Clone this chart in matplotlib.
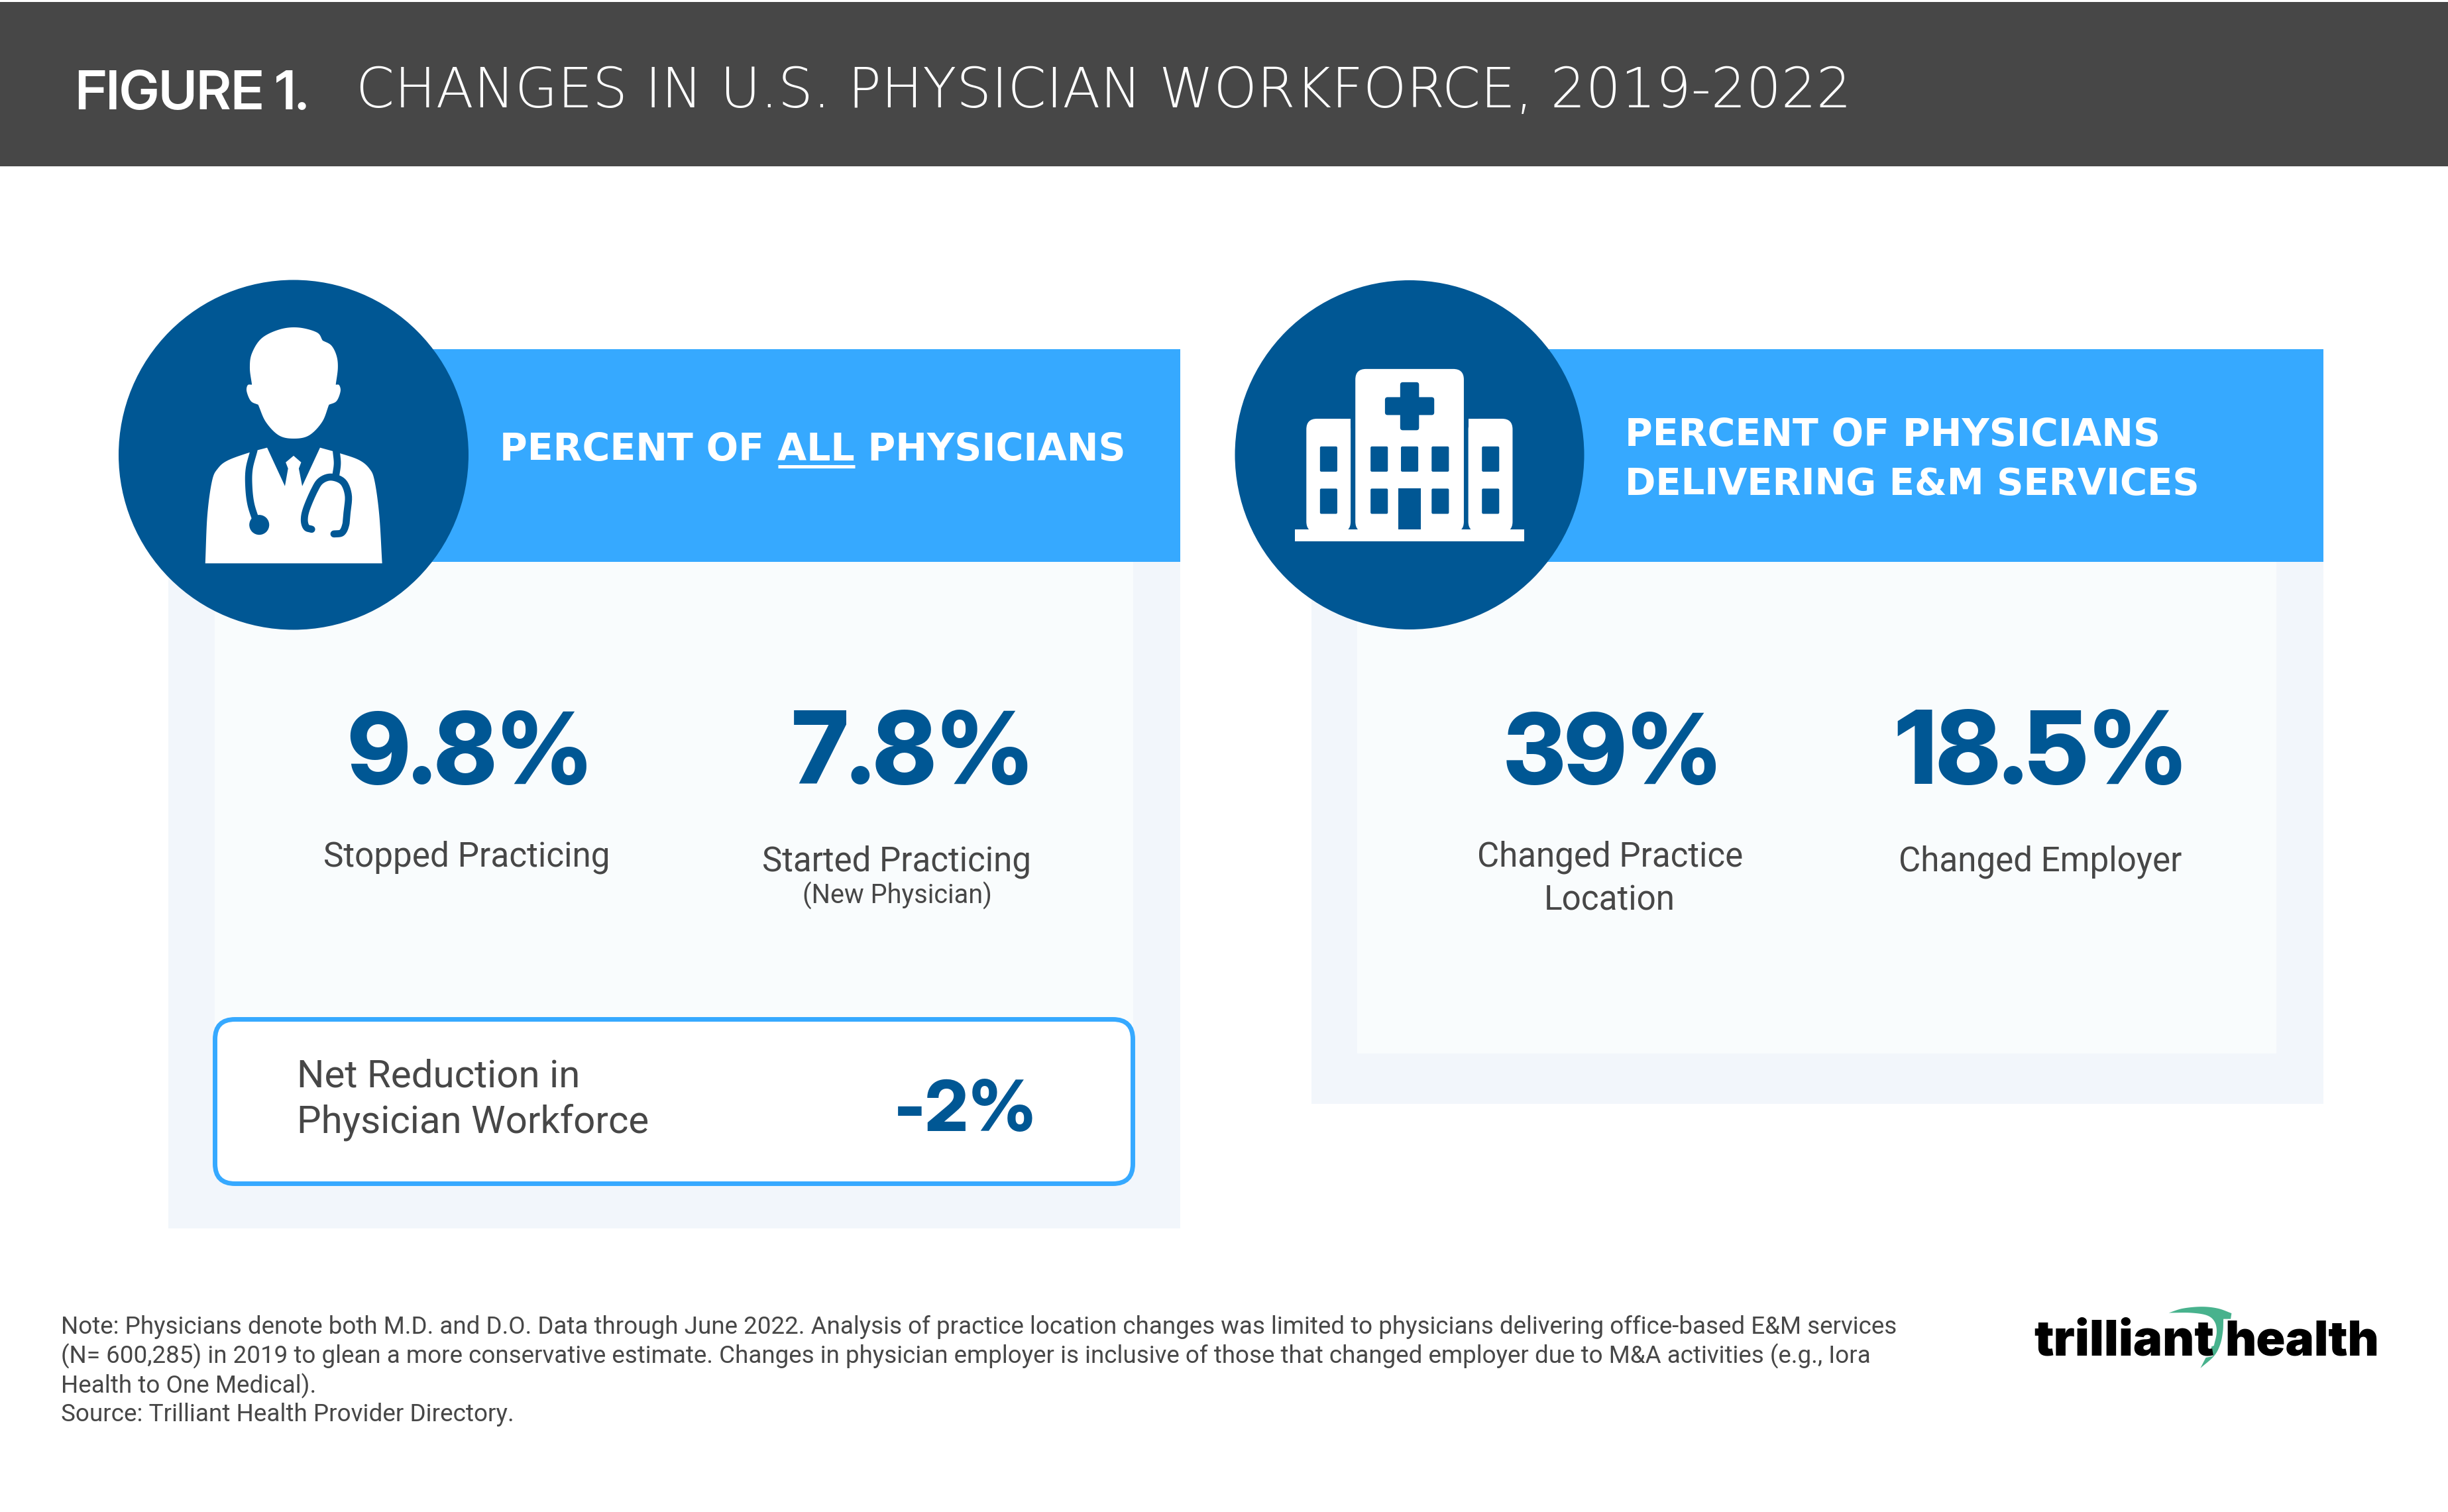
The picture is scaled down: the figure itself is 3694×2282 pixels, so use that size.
import matplotlib
matplotlib.use("Agg")
import matplotlib.pyplot as plt
from matplotlib.patches import Rectangle, Circle, FancyBboxPatch, Polygon
import numpy as np

W, H = 3694, 2282
S = W / 1568

# ---- content ----
figure_label = "FIGURE 1."
figure_title = "CHANGES IN U.S. PHYSICIAN WORKFORCE, 2019-2022"
left_header = "PERCENT OF ALL PHYSICIANS"
right_header = ["PERCENT OF PHYSICIANS", "DELIVERING E&M SERVICES"]
stat_values = ["9.8%", "7.8%", "39%", "18.5%"]
net_value = "-2%"
net_label = ["Net Reduction in", "Physician Workforce"]
note_lines = [
    "Note: Physicians denote both M.D. and D.O. Data through June 2022. Analysis of practice location changes was limited to physicians delivering office-based E&M services",
    "(N= 600,285) in 2019 to glean a more conservative estimate. Changes in physician employer is inclusive of those that changed employer due to M&A activities (e.g., Iora",
    "Health to One Medical).",
    "Source: Trilliant Health Provider Directory.",
]

# ---- colours ----
DARK = "#474747"; NAVY = "#005794"; SKY = "#36A9FF"
OUTER = "#F2F6FB"; INNER = "#F9FCFD"; INK = "#474747"; GREEN = "#48B28D"

fig = plt.figure(figsize=(W / 100, H / 100), dpi=100, facecolor="white")
ax = fig.add_axes([0, 0, 1, 1])
ax.set_xlim(0, W); ax.set_ylim(H, 0); ax.axis("off")
renderer = fig.canvas.get_renderer()


def rect(x0, y0, x1, y1, c, z=1):
    ax.add_patch(Rectangle((x0 * S, y0 * S), (x1 - x0) * S, (y1 - y0) * S, fc=c, ec="none", zorder=z))


def label(s, x, y, width, family, weight="normal", color=INK, ha="left", z=10):
    """Text at display coords (baseline y), font size fitted to width."""
    t = ax.text(x * S, y * S, s, family=family, fontweight=weight, color=color, ha=ha, va="baseline", fontsize=20, zorder=z)
    w = t.get_window_extent(renderer).width
    t.set_fontsize(20 * width * S / w)
    return t


# ---- header, panels ----
rect(0, 1.3, 1568, 106.6, DARK)
rect(108, 300, 756, 786.8, OUTER)
rect(137.5, 300, 726, 700, INNER)
rect(840, 300, 1488, 707.3, OUTER)
rect(869.5, 300, 1458, 675, INNER)
rect(180, 223.5, 756, 360, SKY, 2)
rect(900, 223.5, 1488, 360, SKY, 2)

BOX_R = 30
ax.add_patch(FancyBboxPatch((324.5 + BOX_R, 1538.5 + BOX_R), 1385 - 2 * BOX_R, 248 - 2 * BOX_R,
                            boxstyle=f"round,pad={BOX_R},rounding_size={BOX_R}", fc="white", ec=SKY, lw=5, zorder=3))

# ---- circles ----
CY = 686.5
ax.add_patch(Circle((443, CY), 264, fc=NAVY, ec="none", zorder=4))
ax.add_patch(Circle((2127, CY), 263.5, fc=NAVY, ec="none", zorder=4))


# ---- doctor icon (coordinates on a local grid) ----
def d(p):
    p = np.asarray(p, float)
    return np.column_stack((150 + p[:, 0] / 2.529, 400 + p[:, 1] / 2.703))


def smooth(pts, n=12):
    """Catmull-Rom through pts, for icon outlines."""
    p = np.asarray(pts, float)
    p = np.vstack((2 * p[0] - p[1], p, 2 * p[-1] - p[-2]))
    out = []
    for i in range(1, len(p) - 2):
        for t in np.linspace(0, 1, n, endpoint=False):
            out.append(0.5 * ((2 * p[i]) + (-p[i - 1] + p[i + 1]) * t
                              + (2 * p[i - 1] - 5 * p[i] + 4 * p[i + 1] - p[i + 2]) * t ** 2
                              + (-p[i - 1] + 3 * p[i] - 3 * p[i + 1] + p[i + 2]) * t ** 3))
    out.append(p[-2])
    return np.array(out)


head = np.vstack([
    smooth([(852, 308), (830, 275), (760, 255), (690, 262), (620, 298), (582, 360), (574, 420), (582, 488)]),
    smooth([(582, 488), (566, 490), (562, 515), (578, 555), (606, 570)]),
    smooth([(606, 570), (635, 640), (685, 695), (742, 708), (800, 695), (850, 640), (876, 570)]),
    smooth([(876, 570), (905, 555), (920, 515), (915, 490), (902, 488)]),
    smooth([(902, 488), (910, 420), (905, 370), (885, 328), (852, 308)]),
])
ax.add_patch(Polygon(d(head), fc="white", ec="none", zorder=5))

coat = np.vstack([
    [(404, 1217)],
    smooth([(404, 1217), (412, 1020), (430, 880), (452, 830), (490, 797), (572, 765), (640, 745)]),
    [(708, 902), (720, 830), (711, 805), (741, 778), (770, 805), (761, 830), (774, 902), (842, 745)],
    smooth([(842, 745), (918, 768), (990, 795), (1030, 830), (1050, 880), (1068, 1020), (1079, 1217)]),
])
ax.add_patch(Polygon(d(coat), fc="white", ec="none", zorder=5))

TUBE = 27 / 2.529 * 0.72
for tube in (
    [(590, 755), (572, 830), (570, 900), (578, 975), (600, 1050)],
    [(904, 760), (908, 810), (902, 860)],
    [(810, 1078), (790, 1070), (782, 1040), (790, 995), (820, 920), (845, 880), (885, 865), (930, 885), (950, 940), (945, 1010), (940, 1060), (925, 1092), (895, 1097)],
):
    c = d(smooth(tube))
    ax.plot(c[:, 0], c[:, 1], color=NAVY, lw=TUBE, solid_capstyle="round", zorder=6)
ball = d([(610, 1060)])[0]
ax.add_patch(Circle(ball, 38 / 2.529, fc=NAVY, ec="none", zorder=6))


# ---- hospital icon ----
def hx(x):
    return 1840 + x / 2.529


def hy(y):
    return 400 + y / 2.703


def hbox(x0, y0, x1, y1, c, r=0, z=5):
    if r:
        ax.add_patch(FancyBboxPatch((hx(x0) + r, hy(y0) + r), hx(x1) - hx(x0) - 2 * r, hy(y1) - hy(y0) - 2 * r,
                                    boxstyle=f"round,pad={r},rounding_size={r}", fc=c, ec="none", zorder=z))
    else:
        ax.add_patch(Rectangle((hx(x0), hy(y0)), hx(x1) - hx(x0), hy(y1) - hy(y0), fc=c, ec="none", zorder=z))


hbox(519, 424, 933, 1090, "white", 16)
hbox(332, 627, 501, 1090, "white", 16)
hbox(450, 627, 501, 700, "white")
hbox(950, 627, 1119, 1090, "white", 16)
hbox(950, 627, 1000, 700, "white")
hbox(288, 1078, 1163, 1126, "white")
hbox(690, 478, 762, 674, NAVY, 4, 6)
hbox(632, 539, 820, 612, NAVY, 4, 6)
for wx in (384, 577, 693, 810, 1002):
    hbox(wx, 740, wx + 66, 843, NAVY, 2, 6)
for wx in (384, 577, 810, 1002):
    hbox(wx, 912, wx + 66, 1015, NAVY, 2, 6)
hbox(683, 912, 769, 1078, NAVY, 0, 6)

# ---- texts ----
BIG = "Inter Display"
BODY = "Roboto"
label(figure_label, 48.5, 70, 149, BIG, 600, "white")
label(figure_title, 228, 68.7, 958, "DejaVu Sans", 200, "white")

label(left_header, 320, 295, 400, "DejaVu Sans", 700, "white")
label(right_header[0], 1041, 285.5, 342, "DejaVu Sans", 700, "white")
label(right_header[1], 1041, 316.5, 367, "DejaVu Sans", 700, "white")
ax.plot([498.3 * S, 547.6 * S], [298.8 * S, 298.8 * S], color="white", lw=3.6, solid_capstyle="butt", zorder=10)

num_pos = [(222.5, 158), (507, 156), (963, 141), (1214, 188)]
for v, (x, w) in zip(stat_values, num_pos):
    label(v, x, 502, w, BIG, 800, NAVY)
label(net_value, 572.5, 724.5, 92, BIG, 800, NAVY)

label("Stopped Practicing", 207, 555, 183, BODY)
label("Started Practicing", 488, 558, 172, BODY)
label("(New Physician)", 514, 579, 121, BODY)
label("Changed Practice", 946, 555, 170, BODY)
label("Location", 989, 583, 84, BODY)
label("Changed Employer", 1216, 558, 181, BODY)
label(net_label[0], 190, 696.5, 181, BODY)
label(net_label[1], 190, 725.5, 225, BODY)

for line, y, w in zip(note_lines, (854.5, 873.5, 892.5, 910.5), (1175, 1158, 163, 290)):
    label(line, 39, y, w, BODY)

# ---- logo ----
lx = lambda x: 3000 + np.asarray(x) / 2.45
ly = lambda y: 1922 + np.asarray(y) / 3.03
swoosh = np.vstack([
    smooth([(668, 180), (720, 160), (790, 152), (850, 160), (900, 182)]),
    [(897, 208), (870, 208)],
    smooth([(870, 208), (868, 265), (858, 325), (835, 378), (785, 433)]),
    [(805, 385), (832, 378), (825, 335), (835, 330)],
    smooth([(835, 330), (845, 270), (838, 222), (810, 192), (750, 180), (668, 180)]),
])
ax.add_patch(Polygon(np.column_stack((lx(swoosh[:, 0]), ly(swoosh[:, 1]))), fc=GREEN, ec="none", zorder=8))
for s, x0, x1 in (("trilliant", 170, 835), ("health", 875, 1445)):
    t = ax.text(lx(x0), ly(375), s, family="Inter", fontweight=900, color="black", va="baseline", fontsize=20, zorder=9)
    t.set_fontsize(20 * (x1 - x0) / 2.45 / t.get_window_extent(renderer).width)

fig.savefig("out.png", dpi=100, facecolor="white")
